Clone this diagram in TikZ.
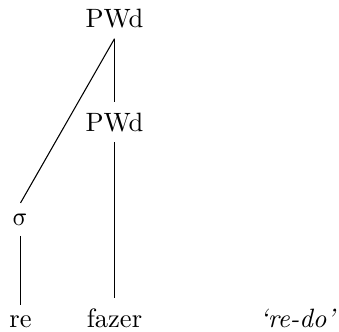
\documentclass[tikz,border=0pt]{standalone}
\usepackage{unicode-math}
\begin{document}
\begin{tikzpicture}[x=0.377pt,y=-0.377pt,
  lbl/.style={anchor=base,inner xsep=0pt,inner ysep=3.8pt},
  branch/.style={line width=0.4pt}]
\useasboundingbox (0,0) rectangle (339,332);
% prosodic word nodes
\node[lbl] (pw1) at (114.5,27.5) {PWd};
\node[lbl] (pw2) at (114.5,131) {PWd};
% syllable node
\node[lbl] (syl) at (20.5,225) {$\symup{\sigma}$};
% segmental strings
\node[lbl] (re) at (20.5,327) {re};
\node[lbl] (fazer) at (114.5,327) {fazer};
\node[lbl] (gloss) at (298,327) {\textit{`re-do'}};
% tree branches
\draw[branch] (pw1.south) -- (pw2.north);
\draw[branch] (pw1.south) -- (syl.north);
\draw[branch] (pw2.south) -- (fazer.north);
\draw[branch] (syl.south) -- (re.north);
\end{tikzpicture}
\end{document}
